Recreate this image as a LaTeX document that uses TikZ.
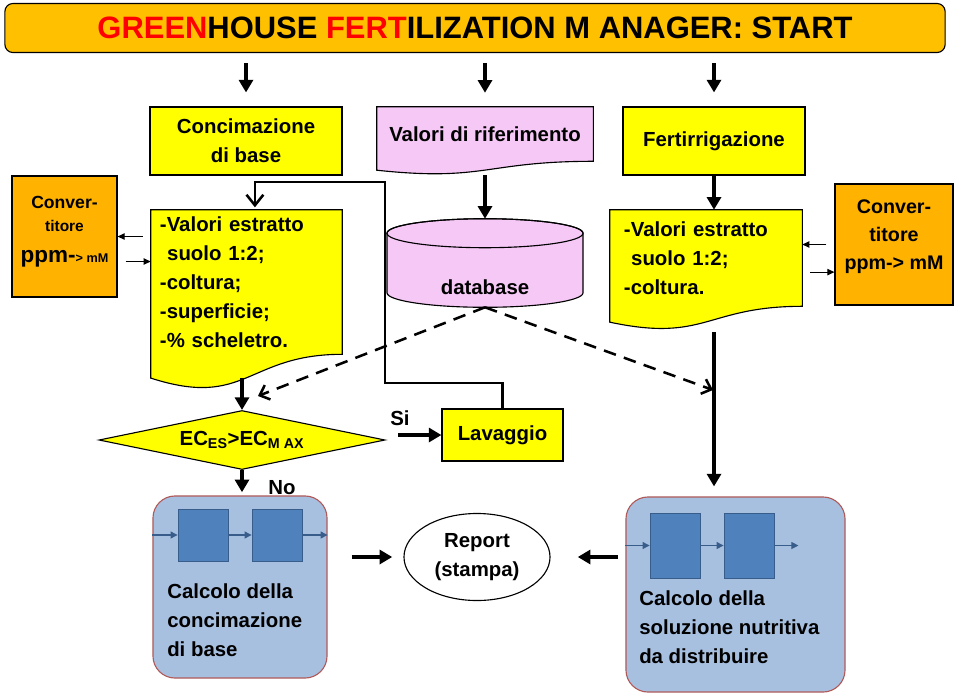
\documentclass[tikz,border=0pt]{standalone}
\usepackage{fontspec}
\setmainfont{Liberation Sans}
\usetikzlibrary{shapes.geometric,arrows.meta,backgrounds,calc}

\definecolor{titleorange}{HTML}{FFC000}
\definecolor{convorange}{HTML}{FFB300}
\definecolor{boxyellow}{HTML}{FFFF00}
\definecolor{refpink}{HTML}{F5C8F5}
\definecolor{calcblue}{HTML}{A8C0E0}
\definecolor{calcrim}{HTML}{B05A5A}
\definecolor{blkblue}{HTML}{4F81BD}
\definecolor{blkrim}{HTML}{385D8A}
\definecolor{titlered}{HTML}{FF0000}

% wavy bottom of a document box: name, colour, height in px
\newcommand{\docwave}[3]{%
  \begin{scope}[on background layer]
    \draw[fill=#2,line width=0.8pt] (#1.north west) -- (#1.north east) -- (#1.south east)
      .. controls (#1.south) and ($(#1.south)+(0,0.38*#3)$) .. ($(#1.south west)+(0,0.165*#3)$) -- cycle;
  \end{scope}}

\begin{document}
\begin{tikzpicture}[x=0.025cm,y=-0.025cm,
  font=\bfseries\fontsize{14.5}{20.6}\selectfont,
  box/.style={draw,line width=0.8pt,fill=boxyellow,align=center,inner sep=0pt},
  conv/.style={draw,line width=0.8pt,fill=convorange,inner sep=0pt,minimum height=3.025cm},
  doc/.style={align=left,inner ysep=0pt},
  calc/.style={draw=calcrim,fill=calcblue,line width=0.8pt,rounded corners=0.55cm},
  blk/.style={draw=blkrim,fill=blkblue,line width=0.6pt,minimum width=1.25cm},
  bigarrow/.style={line width=2.2pt,-{Triangle[length=9pt,width=10pt]}},
  thinarrow/.style={line width=0.8pt,-{Triangle[length=5pt,width=4.5pt]}},
  flowarrow/.style={blkrim,line width=0.8pt,-{Triangle[length=5pt,width=5pt]}},
  backline/.style={line width=1.6pt,-{Straight Barb[length=7.5pt,width=12pt,line width=1.8pt]}},
  dasharrow/.style={line width=1.8pt,dash pattern=on 9pt off 6pt,-{Straight Barb[length=6pt,width=11pt]}}]

\useasboundingbox (0,0) rectangle (960,699);

% titolo
\node[box,fill=titleorange,rounded corners=0.2cm,minimum width=23.5cm,minimum height=1.225cm,
  font=\bfseries\fontsize{22}{26}\selectfont] (title) at (475,28)
  {\textcolor{titlered}{GREEN}HOUSE \textcolor{titlered}{FERT}ILIZATION M ANAGER: START};

% colonna sinistra
\node[box,minimum width=4.8cm,minimum height=1.7cm] (conc) at (246,141) {Concimazione\\di base};
\node[doc,text width=4.325cm,inner xsep=0.225cm,minimum height=3.6cm] (ldoc) at (246.5,282)
  {-Valori estratto\\\hspace{0.18cm}suolo 1:2;\\-coltura;\\-superficie;\\-\% scheletro.};
\docwave{ldoc}{boxyellow}{144}
\node[conv,minimum width=2.625cm,
  label={[align=center,yshift=0.12cm]center:{{\fontsize{12.5}{15}\selectfont Conver-}\\[-4pt]
    {\fontsize{11}{15}\selectfont titore}\\[1pt]
    {\fontsize{16}{18}\selectfont ppm-}{\fontsize{9}{18}\selectfont > mM}}}] (convl) at (64.5,236.5) {};

% colonna centrale
\node[doc,align=center,minimum width=5.4cm,minimum height=1.35cm] (valrif) at (485,134) {Valori di riferimento};
\docwave{valrif}{refpink}{54}
\node[minimum width=4.9cm,minimum height=2.2cm,inner sep=0pt,label={[yshift=-0.6cm]center:database}] (db) at (485,263) {};
\begin{scope}[on background layer]
  \coordinate (dbtop) at ($(db.north)+(0,14.5)$);
  \coordinate (dbbot) at ($(db.south)+(0,-14.5)$);
  \draw[fill=refpink,line width=0.8pt] ($(dbtop)+(-98,0)$) -- ($(dbbot)+(-98,0)$)
    arc[start angle=180,end angle=360,x radius=2.45cm,y radius=0.3625cm] -- ($(dbtop)+(98,0)$)
    arc[start angle=0,end angle=180,x radius=2.45cm,y radius=0.3625cm] -- cycle;
  \draw[line width=0.8pt] (dbtop) ellipse[x radius=2.45cm,y radius=0.3625cm];
\end{scope}

% colonna destra
\node[box,minimum width=4.55cm,minimum height=1.7cm] (fert) at (714,141) {Fertirrigazione};
\node[doc,text width=4.1cm,inner xsep=0.35cm,minimum height=2.4cm] (rdoc) at (706,258)
  {-Valori estratto\\\hspace{0.18cm}suolo 1:2;\\-coltura.};
\docwave{rdoc}{boxyellow}{96}
\node[conv,minimum width=2.95cm,
  label={[align=center,yshift=0.2cm,font=\bfseries\fontsize{14}{20}\selectfont]center:{Conver-\\titore\\ppm-> mM}}]
  (convr) at (894,244.5) {};

% decisione
\node[diamond,draw,line width=0.8pt,fill=boxyellow,aspect=4.8,minimum width=7.15cm,minimum height=1.475cm,
  inner sep=0pt] (dec) at (242,440) {EC\textsubscript{ES}>EC\textsubscript{M AX}};
\node[box,minimum width=3.025cm,minimum height=1.3cm] (lav) at (502.5,435) {Lavaggio};
\node (si) at (400,418) {Si};
\node (no) at (282,488) {No};

% calcoli
\node[calc,minimum width=4.35cm,minimum height=4.55cm] (calcl) at (240,587) {};
\node[blk,minimum height=1.3cm] (b1) at (203,535) {};
\node[blk,minimum height=1.3cm] (b2) at (277,535) {};
\node[anchor=north west,inner sep=0pt,align=left] (calcltxt) at (167,583)
  {Calcolo della\\concimazione\\di base};
\node[ellipse,draw,line width=0.8pt,minimum width=3.65cm,minimum height=2.175cm,align=center] (report)
  at (477,557) {Report\\(stampa)};
\node[calc,minimum width=5.475cm,minimum height=4.875cm] (calcr) at (735.5,594.5) {};
\node[blk,minimum height=1.625cm] (b3) at (675,545.5) {};
\node[blk,minimum height=1.625cm] (b4) at (749,545.5) {};
\coordinate (b4out) at ($(b4.east)+(24,0)$);
\node[anchor=north west,inner sep=0pt,align=left] (calcrtxt) at (639,590)
  {Calcolo della\\soluzione nutritiva\\da distribuire};

% frecce
\draw[bigarrow,shorten <=0.25cm,shorten >=0.35cm] (title.south -| conc.north) -- (conc.north);
\draw[bigarrow,shorten <=0.25cm,shorten >=0.35cm] (title.south -| valrif.north) -- (valrif.north);
\draw[bigarrow,shorten <=0.25cm,shorten >=0.35cm] (title.south -| fert.north) -- (fert.north);
\draw[bigarrow,shorten <=0.35cm] (valrif.south) -- (db.north);
\draw[bigarrow] (fert.south) -- (fert.south |- rdoc.north);
\draw[bigarrow,shorten <=0.6cm] (dec.north |- ldoc.south) -- (dec.north);
\draw[bigarrow,shorten <=0.65cm,shorten >=0.25cm] (fert.south |- rdoc.south) -- (fert.south |- calcr.north);
\draw[bigarrow,shorten >=0.08cm] (dec.south) -- (dec.south |- calcl.north);
\draw[bigarrow,shorten <=0.32cm] (dec.east |- lav.west) -- (lav.west);
\draw[bigarrow,shorten <=0.6cm,shorten >=0.28cm] (calcl.east |- report.west) -- (report.west);
\draw[bigarrow,shorten <=0.18cm,shorten >=0.68cm] (calcr.west |- report.east) -- (report.east);

\coordinate (lp1) at (385,383);
\coordinate (lp2) at (385,182);
\draw[backline,shorten >=0.06cm] (lav.north) |- (lp1) -- (lp2) -| ([xshift=0.21cm]ldoc.north);

\coordinate (dl) at (258,396);
\coordinate (dr) at (713,390);
\draw[dasharrow] (db.south) -- (dl);
\draw[dasharrow] (db.south) -- (dr);

\draw[thinarrow,shorten <=0.2cm] (ldoc.west |- convl.east) -- (convl.east);
\draw[thinarrow,shorten <=0.2cm] ([yshift=-0.625cm]convl.east) -- ([yshift=-0.625cm]convl.east -| ldoc.west);
\draw[thinarrow,shorten <=0.2cm] (convr.west) -- (convr.west -| rdoc.east);
\draw[thinarrow,shorten <=0.2cm] ([yshift=-0.69cm]convr.west -| rdoc.east) -- ([yshift=-0.69cm]convr.west);

\draw[flowarrow] (calcl.west |- b1.west) -- (b1.west);
\draw[flowarrow] (b1) -- (b2);
\draw[flowarrow] (b2.east) -- (b2.east -| calcl.east);
\draw[flowarrow] (calcr.west |- b3.west) -- (b3.west);
\draw[flowarrow] (b3) -- (b4);
\draw[flowarrow] (b4.east) -- (b4out);
\end{tikzpicture}
\end{document}
